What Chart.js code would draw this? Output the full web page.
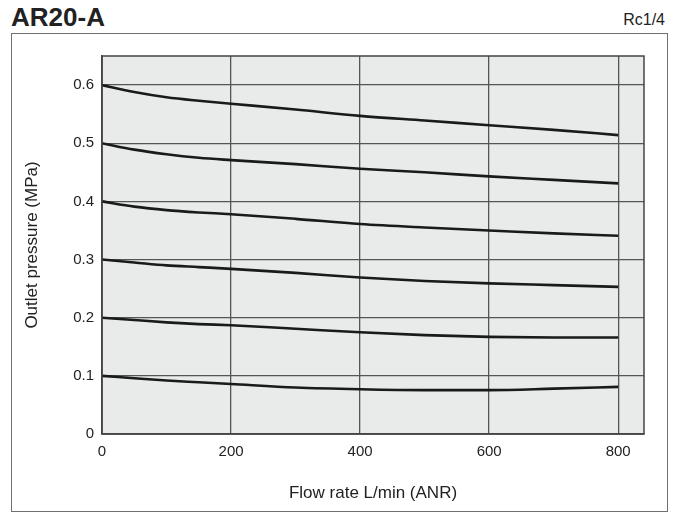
<!DOCTYPE html>
<html>
<head>
<meta charset="utf-8">
<script src="https://cdn.jsdelivr.net/npm/chart.js@4.4.0/dist/chart.umd.min.js"></script>
<style>
  body { margin: 0; background: #fff; }
  #wrap { position: relative; width: 678px; height: 513px; overflow: hidden; font-family: "Liberation Sans", Arial, sans-serif; color: #222; }
  #title { position: absolute; left: 11px; top: 4px; font-size: 26px; line-height: 26px; font-weight: bold; }
  #port { position: absolute; right: 13px; top: 12px; font-size: 16px; line-height: 16px; }
  #frame { position: absolute; left: 11px; top: 33px; width: 657px; height: 479px; box-sizing: border-box; border: 1px solid #707070; }
  #chart { position: absolute; left: 0; top: 0; }
</style>
</head>
<body>
<div id="wrap">
  <div id="title">AR20-A</div>
  <div id="port">Rc1/4</div>
  <div id="frame"></div>
  <canvas id="chart" width="678" height="513"></canvas>
</div>
<script>
// flow rate L/min (ANR)
const flowRates = [0, 50, 100, 150, 200, 300, 400, 500, 600, 700, 800];

// outlet pressure (MPa), one curve per set pressure
const set06 = [0.600, 0.588, 0.579, 0.573, 0.568, 0.558, 0.547, 0.539, 0.531, 0.523, 0.514];
const set05 = [0.500, 0.489, 0.481, 0.475, 0.471, 0.464, 0.456, 0.450, 0.443, 0.437, 0.431];
const set04 = [0.400, 0.391, 0.385, 0.381, 0.378, 0.370, 0.361, 0.355, 0.350, 0.345, 0.341];
const set03 = [0.300, 0.295, 0.290, 0.287, 0.284, 0.277, 0.269, 0.263, 0.259, 0.256, 0.253];
const set02 = [0.200, 0.196, 0.192, 0.189, 0.187, 0.181, 0.175, 0.170, 0.167, 0.166, 0.166];
const set01 = [0.100, 0.096, 0.092, 0.089, 0.086, 0.080, 0.077, 0.0755, 0.0755, 0.078, 0.081];

const xTicks = [0, 200, 400, 600, 800];
const yTicks = [0, 0.1, 0.2, 0.3, 0.4, 0.5, 0.6];

const curves = [set06, set05, set04, set03, set02, set01];

const datasets = curves.map((vals) => ({
  data: flowRates.map((f, i) => ({ x: f, y: vals[i] })),
  borderColor: "#1a1a1a",
  borderWidth: 2.6,
  pointRadius: 0,
  cubicInterpolationMode: "monotone",
  fill: false,
}));

// gray plot background + dark frame round the plot area
const plotFrame = {
  id: "plotFrame",
  beforeDraw(chart) {
    const { ctx, chartArea: a } = chart;
    ctx.save();
    ctx.fillStyle = "#e9eaea";
    ctx.fillRect(a.left, a.top, a.right - a.left, a.bottom - a.top);
    ctx.restore();
  },
  afterDatasetsDraw(chart) {
    const { ctx, chartArea: a } = chart;
    ctx.save();
    ctx.strokeStyle = "#444";
    ctx.lineWidth = 1.5;
    ctx.strokeRect(a.left, a.top, a.right - a.left, a.bottom - a.top);
    ctx.restore();
  },
};

const font = { family: "'Liberation Sans', Arial, sans-serif", size: 15 };

new Chart(document.getElementById("chart"), {
  type: "line",
  data: { datasets: datasets },
  options: {
    responsive: false,
    animation: false,
    layout: { padding: { left: 0, top: 56, right: 34, bottom: 0 } },
    plugins: { legend: { display: false }, tooltip: { enabled: false } },
    scales: {
      x: {
        type: "linear",
        min: 0,
        max: 840,
        afterBuildTicks: (s) => { s.ticks = xTicks.map((v) => ({ value: v })); },
        afterFit: (s) => { s.height = 79; },
        grid: { color: "#555", lineWidth: 1.3, drawTicks: false },
        border: { color: "#444", width: 1.5 },
        ticks: { color: "#222", font: font, padding: 9, maxRotation: 0 },
        title: {
          display: true,
          text: "Flow rate L/min (ANR)",
          color: "#222",
          font: { family: font.family, size: 17 },
          padding: { top: 0, bottom: 9 },
        },
      },
      y: {
        min: 0,
        max: 0.65,
        afterBuildTicks: (s) => { s.ticks = yTicks.map((v) => ({ value: v })); },
        afterFit: (s) => { s.width = 102; },
        grid: { color: "#555", lineWidth: 1.3, drawTicks: false },
        border: { color: "#444", width: 1.5 },
        ticks: { color: "#222", font: font, padding: 8 },
        title: {
          display: true,
          text: "Outlet pressure (MPa)",
          color: "#222",
          font: { family: font.family, size: 17 },
          padding: { top: 22, bottom: 0 },
        },
      },
    },
  },
  plugins: [plotFrame],
});
</script>
</body>
</html>
